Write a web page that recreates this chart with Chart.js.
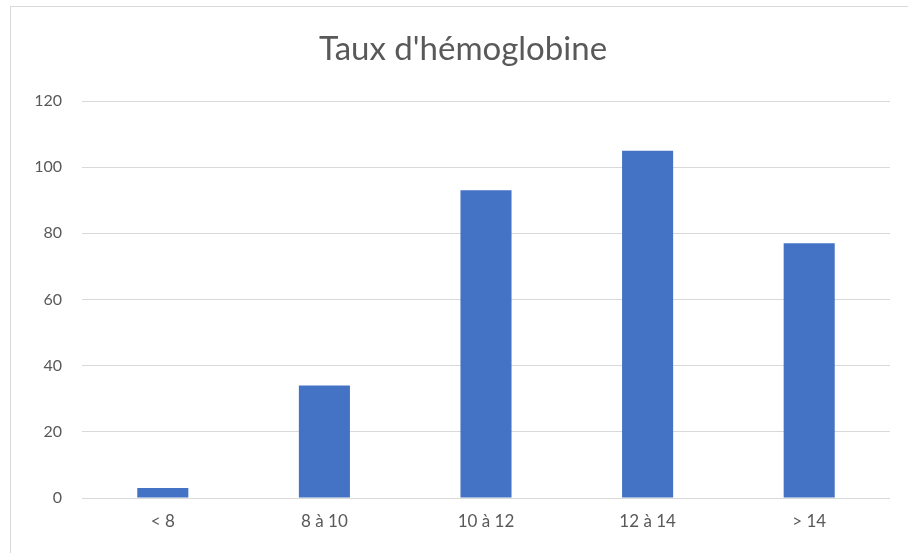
<!DOCTYPE html>
<html>
<head>
<meta charset="utf-8">
<script src="https://cdn.jsdelivr.net/npm/chart.js@4"></script>
<style>
  html, body { margin: 0; padding: 0; background: #fff; }
  #wrap { position: relative; width: 908px; height: 553px; overflow: hidden; }
  #frame { position: absolute; left: 10px; top: 6px; width: 920px; height: 580px; border: 1px solid #d9d9d9; box-sizing: border-box; }
  canvas { position: absolute; left: 0; top: 0; }
</style>
</head>
<body>
<div id="wrap">
  <div id="frame"></div>
  <canvas id="c" width="908" height="553"></canvas>
</div>
<script>
const chartTitle = "Taux d'hémoglobine";
const categories = ["< 8", "8 à 10", "10 à 12", "12 à 14", "> 14"];
const values = [3, 34, 93, 105, 77];
const yTicks = [0, 20, 40, 60, 80, 100, 120];

const textColor = '#595959';
const fontFamily = 'Lato, "Open Sans", sans-serif';

new Chart(document.getElementById('c'), {
  type: 'bar',
  data: {
    labels: categories,
    datasets: [{
      data: values,
      backgroundColor: '#4472C4',
      borderWidth: 0,
      categoryPercentage: 1,
      barPercentage: 0.316
    }]
  },
  options: {
    responsive: false,
    animation: false,
    layout: { padding: { left: 36, right: 18, top: 0, bottom: 0 } },
    plugins: {
      legend: { display: false },
      tooltip: { enabled: false },
      title: {
        display: true,
        text: chartTitle,
        color: textColor,
        font: { family: fontFamily, size: 33, weight: 'normal' },
        padding: { top: 30, bottom: 31.4 }
      }
    },
    scales: {
      x: {
        grid: { display: false, drawTicks: false },
        border: { display: false },
        ticks: { color: textColor, font: { family: fontFamily, size: 17 }, padding: 13 },
        afterFit: s => { s.height = 55; }
      },
      y: {
        min: 0,
        max: 120,
        afterBuildTicks: s => { s.ticks = yTicks.map(v => ({ value: v })); },
        grid: { color: '#d9d9d9', lineWidth: 1, drawTicks: false },
        border: { display: false },
        ticks: { color: textColor, font: { family: fontFamily, size: 16 }, padding: 20 },
        afterFit: s => { s.width = 46; }
      }
    }
  }
});
</script>
</body>
</html>
